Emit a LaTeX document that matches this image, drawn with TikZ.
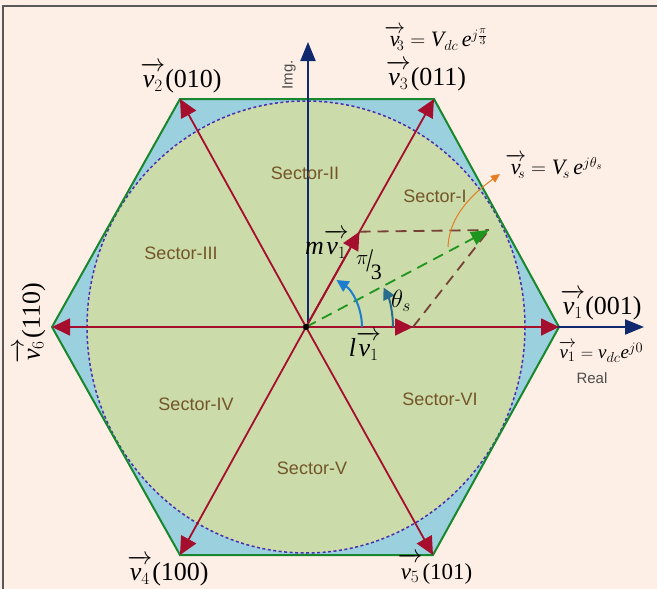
\documentclass[tikz,border=0pt]{standalone}
\usepackage{fontspec}
\setmainfont{Liberation Serif}
\setsansfont{Liberation Sans}
\usetikzlibrary{arrows.meta,calc}
\definecolor{bgc}{RGB}{253,239,229}
\definecolor{hexblue}{RGB}{155,208,222}
\definecolor{olivec}{RGB}{203,219,170}
\definecolor{hexgreen}{RGB}{25,135,45}
\definecolor{dotc}{RGB}{75,45,175}
\definecolor{vred}{RGB}{165,15,45}
\definecolor{navyc}{RGB}{15,40,110}
\definecolor{brownd}{RGB}{120,65,55}
\definecolor{greend}{RGB}{30,150,30}
\definecolor{sectc}{RGB}{115,85,40}
\definecolor{arcblue}{RGB}{30,125,205}
\definecolor{arcteal}{RGB}{40,110,140}
\definecolor{orangec}{RGB}{230,125,35}
\newcommand{\itx}[1]{\mbox{\itshape #1}}
\newcommand{\vecv}[1]{\overrightarrow{\vphantom{l}\itx{v}_{#1}}}
\newcommand{\vecs}[1]{\overrightarrow{\vphantom{l}\itx{v}}\mkern-7mu{}_{#1}}
\tikzset{
 vecarrow/.style={draw=vred, line width=1.8pt, -{Triangle[length=18pt,width=17pt]}},
 axisarrow/.style={draw=navyc, line width=2pt, -{Triangle[length=19pt,width=15pt]}},
 sectorlab/.style={font=\sffamily\fontsize{18}{20}\selectfont, text=sectc},
 axislab/.style={font=\sffamily\fontsize{15}{17}\selectfont, text=black!70},
 biglab/.style={font=\fontsize{26}{28}\selectfont, inner sep=0pt},
 midlab/.style={font=\fontsize{23}{25}\selectfont, inner sep=0pt},
 eqlab/.style={font=\fontsize{22}{24}\selectfont, inner sep=0pt},
 smalleq/.style={font=\fontsize{19}{21}\selectfont, inner sep=0pt},
 dashedvec/.style={line width=1.8pt, dash pattern=on 11pt off 7pt},
}
\begin{document}
\begin{tikzpicture}[x=1pt,y=-1pt]
\useasboundingbox (0,0) rectangle (657,589);
\fill[bgc] (0,0) rectangle (657,589);
\draw[gray!70!black, line width=2pt] (3,589) -- (3,6) -- (657,6);
% key points
\coordinate (O) at (306,327);
\coordinate (A1) at (559,327);
\coordinate (A2) at (180,99);
\coordinate (A3) at (434,99);
\coordinate (A4) at (180,555);
\coordinate (A5) at (433,555);
\coordinate (A6) at (52,327);
\coordinate (M) at ($(O)!0.418!(A3)$);
\coordinate (L) at (413,327);
\coordinate (S) at (489,230);
\coordinate (XE) at (644,327);
\coordinate (YO) at (308,327);
\coordinate (YE) at (308,42);
% hexagon and circle
\fill[hexblue] (A1)--(A3)--(A2)--(A6)--(A4)--(A5)--cycle;
\fill[olivec] (O) ellipse[x radius=219, y radius=226];
\draw[dotc, line width=1.5pt, dash pattern=on 3pt off 2.5pt] (O) ellipse[x radius=219, y radius=226];
\draw[hexgreen, line width=2pt, line join=miter] (A1)--(A3)--(A2)--(A6)--(A4)--(A5)--cycle;
% axes
\draw[axisarrow] (O) -- (XE);
\draw[axisarrow] (YO) -- (YE);
% sector labels
\node[sectorlab] (s1) at (435,196) {Sector-I};
\node[sectorlab] (s2) at (305,173) {Sector-II};
\node[sectorlab] (s3) at (181,253) {Sector-III};
\node[sectorlab] (s4) at (196,404) {Sector-IV};
\node[sectorlab] (s5) at (312,468) {Sector-V};
\node[sectorlab] (s6) at (440,399) {Sector-VI};
% vectors
\foreach \k in {1,...,6} \draw[vecarrow] (O) -- (A\k);
\draw[vecarrow] (O) -- (M);
\draw[vecarrow] (O) -- (L);
\draw[brownd, dashedvec] (M) -- (S);
\draw[brownd, dashedvec] (L) -- (S);
\draw[greend, dashedvec, -{Triangle[length=18pt,width=14pt]}] (O) -- (S);
% angle arcs
\draw[arcblue, line width=2pt, -{Triangle[length=12pt,width=12pt]}] ($(O)+(56,0)$) arc[start angle=0, end angle=-57, radius=56];
\draw[arcteal, line width=2pt, -{Triangle[length=12pt,width=12pt]}] ($(O)+(87,0)$) arc[start angle=0, end angle=-27, radius=87];
\coordinate (oa) at (448,247);
\coordinate (ob) at (500,174);
\draw[orangec, line width=1pt, -{Triangle[length=9pt,width=8pt]}] (oa) .. controls (449,222) and (464,200) .. (ob);
\fill[black] (O) circle[radius=3.2];
% labels
\node[axislab, rotate=90] (img) at (289,75) {Img.};
\node[axislab] (real) at (592,378) {Real};
\node[eqlab] (v3eq) at (436,38) {$\vecs{3}=\itx{V}_{dc}\,\itx{e}^{j\frac{\pi}{3}}$};
\node[biglab] (v3) at (426,76) {$\vecv{3}$(011)};
\node[biglab] (v2) at (181,78) {$\vecv{2}$(010)};
\node[eqlab] (vseq) at (554,166) {$\vecs{s}=\itx{V}_{\!s}\,\itx{e}^{j\theta_s}$};
\node[biglab] (v1) at (601,305) {$\vecv{1}$(001)};
\node[smalleq] (v1eq) at (601,352) {$\vecv{1}=\itx{v}_{dc}\itx{e}^{j0}$};
\node[biglab, rotate=90] (v6) at (30,323) {$\vecv{6}$(110)};
\node[biglab] (v4) at (168,571) {$\vecv{4}$(100)};
\node[midlab] (v5) at (435,569) {$\vecv{5}$(101)};
\node[biglab] (mv) at (327,244) {$\itx{m}\vecv{1}$};
\node[biglab] (lv) at (365,346) {$\itx{l}\vecv{1}$};
\node[biglab] (th) at (401,301) {$\theta_s$};
\node[eqlab] (pi3) at (369,265) {\raisebox{7pt}{$\pi$}\kern-2pt\scalebox{1.1}[1.5]{/}\kern-2pt\raisebox{-8pt}{3}};
\end{tikzpicture}
\end{document}
